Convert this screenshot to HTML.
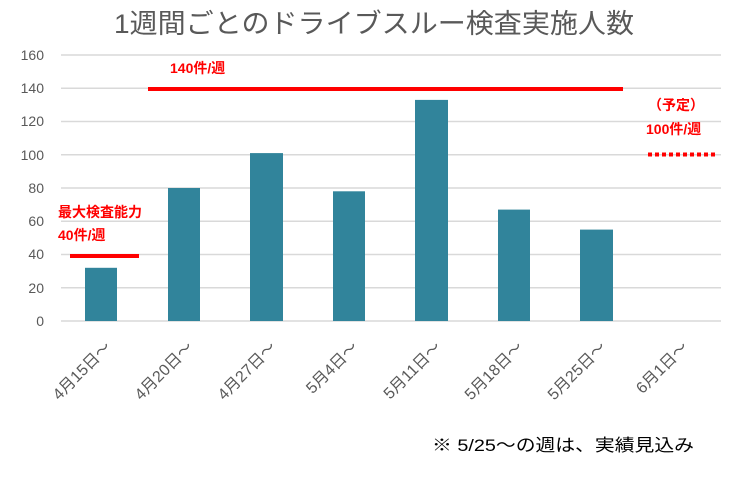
<!DOCTYPE html>
<html><head><meta charset="utf-8"><style>
body{margin:0;background:#fff;width:748px;height:474px;overflow:hidden}
text{font-family:"Liberation Sans","Noto Sans CJK JP",sans-serif}
</style></head><body>
<svg width="748" height="474" xmlns="http://www.w3.org/2000/svg">
<text x="114" y="33" font-size="27" fill="#595959" textLength="520" lengthAdjust="spacingAndGlyphs">1週間ごとのドライブスルー検査実施人数</text>
<g stroke="#d9d9d9" stroke-width="1.5">
<line x1="61" x2="721" y1="55" y2="55"/><line x1="61" x2="721" y1="88.25" y2="88.25"/>
<line x1="61" x2="721" y1="121.5" y2="121.5"/><line x1="61" x2="721" y1="154.75" y2="154.75"/>
<line x1="61" x2="721" y1="188" y2="188"/><line x1="61" x2="721" y1="221.25" y2="221.25"/>
<line x1="61" x2="721" y1="254.5" y2="254.5"/><line x1="61" x2="721" y1="287.75" y2="287.75"/>
<line x1="61" x2="721" y1="321" y2="321"/>
</g>
<g font-size="14" fill="#595959" text-anchor="end">
<text x="44" y="60">160</text><text x="44" y="93">140</text><text x="44" y="126">120</text>
<text x="44" y="160">100</text><text x="44" y="193">80</text><text x="44" y="226">60</text>
<text x="44" y="259">40</text><text x="44" y="293">20</text><text x="44" y="326">0</text>
</g>
<g fill="#31849b">
<rect x="85" y="267.8" width="32" height="53.2"/>
<rect x="168" y="188" width="32" height="133"/>
<rect x="250" y="153.1" width="33" height="167.9"/>
<rect x="333" y="191.3" width="32" height="129.7"/>
<rect x="415" y="99.9" width="33" height="221.1"/>
<rect x="498" y="209.6" width="32" height="111.4"/>
<rect x="580" y="229.6" width="33" height="91.4"/>
</g>
<line x1="70" x2="139" y1="256" y2="256" stroke="#f00" stroke-width="4"/>
<line x1="148" x2="623" y1="89" y2="89" stroke="#f00" stroke-width="4"/>
<line x1="648" x2="718" y1="154.5" y2="154.5" stroke="#f00" stroke-width="4" stroke-dasharray="4,3"/>
<g fill="#f00" font-weight="bold" font-size="14">
<text x="58" y="217">最大検査能力</text>
<text x="58" y="240">40件/週</text>
<text x="170" y="73">140件/週</text>
<text x="648" y="110">（予定）</text>
<text x="646" y="134">100件/週</text>
</g>
<g font-size="16" fill="#595959" text-anchor="end">
<text transform="translate(112,348) rotate(-45)">4月15日～</text>
<text transform="translate(194,348) rotate(-45)">4月20日～</text>
<text transform="translate(277,348) rotate(-45)">4月27日～</text>
<text transform="translate(359,348) rotate(-45)">5月4日～</text>
<text transform="translate(442,348) rotate(-45)">5月11日～</text>
<text transform="translate(524,348) rotate(-45)">5月18日～</text>
<text transform="translate(607,348) rotate(-45)">5月25日～</text>
<text transform="translate(689,348) rotate(-45)">6月1日～</text>
</g>
<text x="432" y="451" font-size="17" fill="#000" textLength="262" lengthAdjust="spacingAndGlyphs">※ 5/25～の週は、実績見込み</text>
</svg>
</body></html>
